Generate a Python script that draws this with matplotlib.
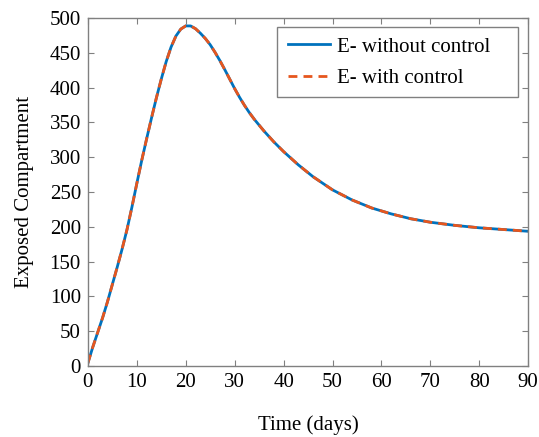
import matplotlib
matplotlib.use("Agg")
import matplotlib.pyplot as plt
from matplotlib.patches import Rectangle

plt.rcParams['font.family'] = ['Liberation Serif', 'DejaVu Serif']

days = [0, 1, 2, 3, 4, 5, 6, 7, 8, 9, 10, 11, 12, 13, 14, 15, 16, 17, 18, 19,
        20, 21, 22, 23, 24, 25, 26, 27, 28, 29, 30, 31, 32, 33, 34, 36, 38,
        40, 43, 46, 50, 54, 58, 62, 66, 70, 75, 80, 85, 90]
e_without = [4, 27, 48, 69, 92, 117, 142, 168, 196, 228, 262, 295, 326, 356,
             385, 412, 437, 458, 474, 484, 488.5, 488.5, 484.5, 478, 470.5,
             461.5, 450.5, 438.5, 425.5, 412, 398.5, 386, 374.5, 364, 354.5,
             337.5, 322, 308, 289, 272, 253, 238.5, 227, 218.5, 211.5, 206.5,
             202, 198.5, 196, 193.5]
e_with = list(e_without)

xticks = [0, 10, 20, 30, 40, 50, 60, 70, 80, 90]
yticks = [0, 50, 100, 150, 200, 250, 300, 350, 400, 450, 500]

W, H = 539, 437
fig = plt.figure(figsize=(W / 100, H / 100), dpi=100)
ax = fig.add_axes([0.163, 0.1625, 0.817, 0.7965])

ax.plot(days, e_without, color='#0072BD', lw=2.0, label='E- without control')
ax.plot(days, e_with, color='#E6561E', lw=2.0, ls=(0, (3.2, 2.2)),
        label='E- with control')

ax.set_xlim(0, 90)
ax.set_ylim(0, 500)
ax.set_xticks(xticks)
ax.set_yticks(yticks)

gray = '#808080'
for s in ax.spines.values():
    s.set_color(gray)
    s.set_linewidth(1.0)
ax.tick_params(direction='in', length=4, width=0.8, color=gray,
               top=True, right=True, labelsize=15, labelcolor='black', pad=5)

ax.set_xlabel('Time (days)', fontsize=15, labelpad=17)
ax.set_ylabel('Exposed Compartment', fontsize=15, labelpad=11)

# legend frame (drawn separately to match the wider right padding)
frame = Rectangle((277 / W, 1 - 97 / H), (518 - 277) / W, (97 - 27) / H,
                  transform=fig.transFigure, facecolor='white',
                  edgecolor=gray, lw=1.0, zorder=4)
fig.add_artist(frame)

leg = fig.legend(*ax.get_legend_handles_labels(), loc='center left',
                 bbox_to_anchor=(288 / W, 1 - 62.5 / H), fontsize=15,
                 frameon=False, borderpad=0, borderaxespad=0,
                 handlelength=2.0, handletextpad=0.35, labelspacing=0.55)
leg.set_zorder(5)

fig.savefig('out.png', dpi=100)
